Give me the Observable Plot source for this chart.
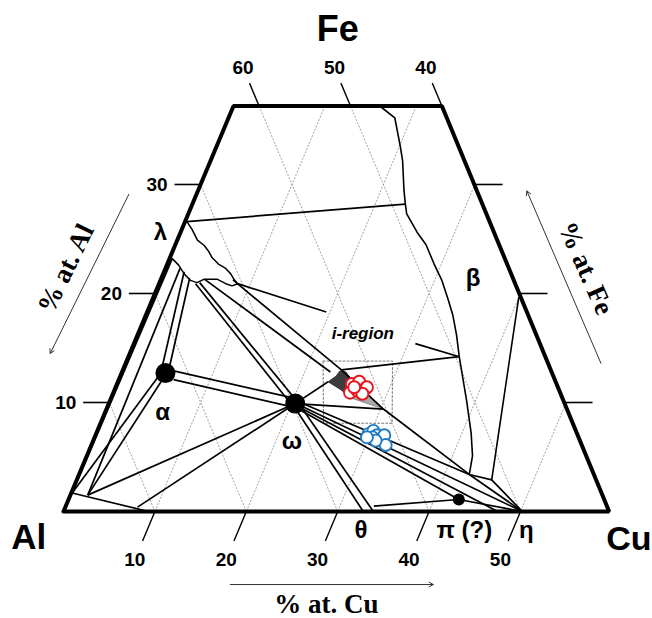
<!DOCTYPE html>
<html><head><meta charset="utf-8">
<script src="https://cdn.jsdelivr.net/npm/d3@7"></script>
<script src="https://cdn.jsdelivr.net/npm/@observablehq/plot@0.6"></script>
<style>body{margin:0;background:#fff} svg{display:block}</style>
</head><body><div id="chart"></div>
<script>
// ---- data: compositions as [at.% Cu, at.% Fe] (Al = balance) ----
const cuTicks = [10, 20, 30, 40, 50];
const alTicks = [60, 50, 40];
const feTicks = [10, 20, 30];
const alGrid = [90, 80, 70, 60, 50];
const feTop = 37.2;
const frame = [[0,0],[59.7,0],[22.8,37.2],[0,37.2],[0,0]];

const lambdaCurve = [[0.2,26.6],[1.1,25.9],[2.2,24.9],[3.2,24.4],[3.9,23.9],[4.6,23.3],[5.6,22.7],[6.6,22.3],[7.4,21.8],[8.0,21.3],[8.6,20.9]];
const lowerCurve = [[0.3,23.2],[1.3,22.6],[2.3,21.8],[3.3,21.2],[4.1,21.0],[4.7,21.3],[6.2,21.3],[7.3,20.9],[8.1,20.7],[8.6,20.9]];
const betaBoundary = [[16.0,37.2],[18.2,36.1],[20.1,33.5],[21.0,32.2],[22.5,29.5],[23.3,28.2],[23.9,27.3],[25.9,25.6],[27.4,24.5],[29.2,22.7],[30.8,21.2],[32.4,19.4],[33.6,18.0],[34.9,16.2],[36.2,14.2],[37.6,12.2],[39.0,10.2],[41.0,7.2],[42.2,5.1],[42.7,3.4],[45.4,2.9],[40.0,19.6]];
const longLine = [[8.0,21.2],[23.9,13.0],[30.3,9.4],[42.7,3.4]];
const tieLines = [
  [[0.2,26.6],[23.3,28.2]],
  [[8.6,20.9],[19.6,18.3]],
  [[23.9,13.0],[36.2,14.2]],
  [[30.8,15.4],[36.2,14.2]],
  [[4.0,20.9],[19.9,9.9]],
  [[4.4,21.0],[20.8,9.9]],
  [[4.8,21.3],[22.8,12.8]],
  [[20.4,9.9],[23.0,11.9]],
  [[20.4,9.9],[30.3,9.4]],
  [[5.6,12.9],[20.0,10.4]],
  [[6.0,12.1],[20.2,9.6]],
  [[2.2,22.0],[4.2,13.1]],
  [[3.1,21.4],[5.0,13.1]],
  [[0.3,23.2],[0.1,1.7]],
  [[1.6,22.3],[1.9,1.5]],
  [[4.2,12.4],[0.1,1.7]],
  [[4.8,12.2],[1.9,1.5]],
  [[0.1,1.7],[9.3,0]],
  [[20.4,9.9],[1.9,1.5]],
  [[20.4,9.9],[7.9,0.4]],
  [[20.2,9.8],[32.8,0]],
  [[20.8,9.9],[33.9,0]],
  [[33.7,0.5],[42.7,1.1]],
  [[42.7,1.1],[50.2,0]],
  [[20.9,10.0],[42.7,3.4]],
  [[21.1,9.7],[50.2,0]],
  [[21.0,9.4],[42.7,1.1]],
  [[20.9,9.6],[47.5,0]],
  [[42.7,3.4],[50.2,0]],
  [[45.4,2.9],[50.2,0]]
];
const iDark = [[23.0,11.9],[23.6,12.4],[23.8,12.9],[24.5,12.8],[25.6,12.0],[27.3,11.1],[26.3,10.4],[24.7,11.2],[23.0,11.9]];
const iLight = [[26.3,10.4],[27.3,11.1],[30.3,9.4],[26.3,10.4]];
const box = [[21.5,13.8],[29.1,13.8],[31.9,8.1],[24.4,8.1],[21.5,13.8]];
const redPts = [[25.7,11.7],[26.4,11.9],[25.9,10.9],[26.6,11.1],[27.4,11.3],[27.5,11.4],[27.3,10.8],[26.1,11.4]];
const bluePts = [[29.8,7.1],[30.2,7.4],[30.8,7.0],[30.4,6.8],[31.6,7.0],[32.2,6.1],[30.9,6.5],[29.8,6.8]];
const bigPhases = [[4.8,12.7],[20.4,9.9]];   // alpha, omega
const smallPhases = [[42.7,1.1]];            // pi
const phaseLabels = [
  {t:"λ", p:[-2.2,25.6]}, {t:"α", p:[6.3,9.1]}, {t:"ω", p:[21.8,6.4]},
  {t:"θ", p:[33.4,-1.7]}, {t:"π (?)", p:[44.7,-1.7]}, {t:"η", p:[51.5,-1.7]},
  {t:"β", p:[34.1,21.4]}
];

// ---- ternary projection: X = Cu + Fe/2, Y = Fe ----
const X = p => p[0] + p[1] / 2;
const Y = p => p[1];
const rightEdgeX = f => X(frame[1]) + (X(frame[2]) - X(frame[1])) * f / feTop;

const gridSegs = [
  ...cuTicks.map(c => [[c,0],[c, Math.min(feTop, 60 - c)]]),
  ...alGrid.map(a => { const s = 100 - a; return s <= feTop ? [[s,0],[0,s]] : [[s,0],[s - feTop, feTop]]; })
];
const L = (data, o) => Plot.link(data, {x1: s => X(s[0]), y1: s => Y(s[0]), x2: s => X(s[1]), y2: s => Y(s[1]), ...o});
const sans = "Liberation Sans, Arial, sans-serif";
const serif = "Liberation Serif, Times New Roman, serif";

const chart = Plot.plot({
  width: 652, height: 618,
  x: {domain: [0, 60], range: [63, 611.4], axis: null},
  y: {domain: [0, feTop], range: [511, 105.5], axis: null},
  style: {fontFamily: sans, background: "#fff"},
  marks: [
    L(gridSegs, {stroke: "#808080", strokeWidth: 0.75, strokeDasharray: "2,1.5"}),
    Plot.line(iDark, {x: X, y: Y, fill: "#3c3c3c", stroke: "#222", strokeWidth: 0.8}),
    Plot.line(iLight, {x: X, y: Y, fill: "#a8a8a8", stroke: "#666", strokeWidth: 0.6}),
    Plot.line(box, {x: X, y: Y, stroke: "#777", strokeWidth: 1, strokeDasharray: "2,2"}),
    Plot.line(lambdaCurve, {x: X, y: Y, stroke: "#000", strokeWidth: 1.5}),
    Plot.line(lowerCurve, {x: X, y: Y, stroke: "#000", strokeWidth: 1.5}),
    Plot.line(betaBoundary, {x: X, y: Y, stroke: "#000", strokeWidth: 1.6}),
    Plot.line(longLine, {x: X, y: Y, stroke: "#000", strokeWidth: 1.7}),
    L(tieLines, {stroke: "#000", strokeWidth: 1.7}),
    Plot.line(frame, {x: X, y: Y, stroke: "#000", strokeWidth: 4, strokeLinejoin: "miter"}),
    // ticks
    Plot.link(feTicks, {x1: f => f/2 - 2.85, x2: f => f/2, y1: f => f, y2: f => f, stroke: "#000", strokeWidth: 1.6}),
    Plot.link(feTicks, {x1: f => rightEdgeX(f), x2: f => rightEdgeX(f) + 3.1, y1: f => f, y2: f => f, stroke: "#000", strokeWidth: 1.6}),
    Plot.link(alTicks, {x1: a => X([100 - a - feTop, feTop]), y1: feTop, x2: a => X([100 - a - feTop - 2.1, feTop + 2.1]), y2: feTop + 2.1, stroke: "#000", strokeWidth: 1.4}),
    Plot.link(cuTicks, {x1: c => c, y1: 0, x2: c => X([c, -2.7]), y2: -2.7, stroke: "#000", strokeWidth: 1.4}),
    Plot.text(feTicks, {x: f => f/2 - 3.6, y: f => f, text: d => String(d), textAnchor: "end", fontSize: 19, fontWeight: "bold"}),
    Plot.text(alTicks, {x: a => X([100 - a - 40.7, 40.7]), y: 40.7, text: d => String(d), fontSize: 19, fontWeight: "bold"}),
    Plot.text(cuTicks, {x: c => X([c, -4.4]), y: -4.4, text: d => String(d), fontSize: 19, fontWeight: "bold"}),
    // phase points
    Plot.dot(redPts, {x: X, y: Y, r: 6, fill: "#fff", stroke: "#e8141c", strokeWidth: 1.9}),
    Plot.dot(bluePts, {x: X, y: Y, r: 6, fill: "#fff", stroke: "#1f7bc4", strokeWidth: 1.9}),
    Plot.dot(bigPhases, {x: X, y: Y, r: 10, fill: "#000"}),
    Plot.dot(smallPhases, {x: X, y: Y, r: 6, fill: "#000"}),
    // labels
    Plot.text(phaseLabels, {x: d => X(d.p), y: d => Y(d.p), text: "t", fontSize: 24, fontWeight: "bold"}),
    Plot.text(["i-region"], {x: X([24.6,16.3]), y: 16.3, text: d => d, fontSize: 17, fontWeight: "bold", fontStyle: "italic"}),
    Plot.text(["Fe"], {x: X([7.9,44.2]), y: 44.2, text: d => d, fontSize: 36, fontWeight: "bold"}),
    Plot.text(["Al"], {x: X([-2.6,-2.4]), y: -2.4, text: d => d, fontSize: 35, fontWeight: "bold"}),
    Plot.text(["Cu"], {x: X([63.1,-2.5]), y: -2.5, text: d => d, fontSize: 34, fontWeight: "bold"}),
    Plot.text(["% at. Al"], {x: X([-10.9,22.3]), y: 22.3, text: d => d, rotate: -64, fontSize: 27, fontWeight: "bold", fontFamily: serif}),
    Plot.text(["% at. Fe"], {x: X([46.0,22.3]), y: 22.3, text: d => d, rotate: 66, fontSize: 27, fontWeight: "bold", fontFamily: serif}),
    Plot.text(["% at. Cu"], {x: X([33.0,-8.5]), y: -8.5, text: d => d, fontSize: 27, fontWeight: "bold", fontFamily: serif}),
    // arrows
    Plot.arrow([[[-7.4,29.1],[-8.7,14.5]], [[52.0,13.6],[36.0,29.4]], [[21.6,-6.7],[43.8,-6.7]]],
      {x1: s => X(s[0]), y1: s => Y(s[0]), x2: s => X(s[1]), y2: s => Y(s[1]), stroke: "#333", strokeWidth: 1, headLength: 7})
  ]
});
document.getElementById("chart").append(chart);
</script>
</body></html>
